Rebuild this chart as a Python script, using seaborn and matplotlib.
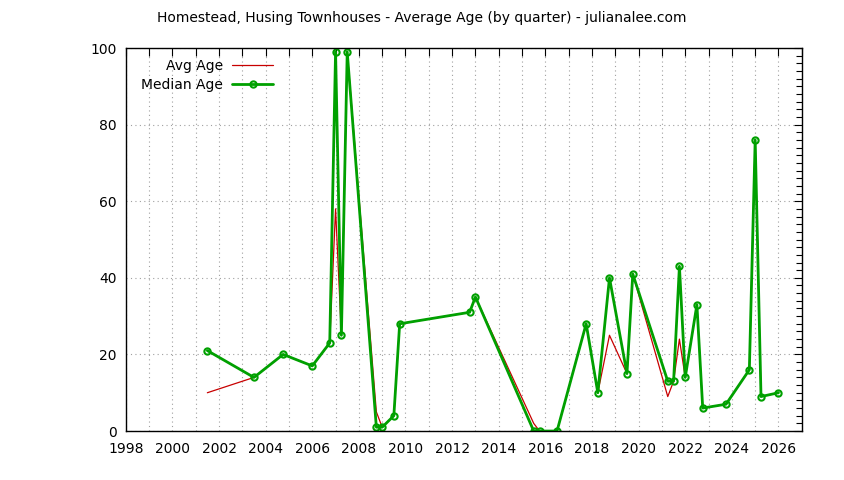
import numpy as np
import pandas as pd
import matplotlib
matplotlib.use("Agg")
import matplotlib.pyplot as plt
from matplotlib.ticker import MultipleLocator
import seaborn as sns

# quarter positions (decimal years) and ages
quarters = [2001.5, 2003.5, 2004.75, 2006.0, 2006.75, 2007.0, 2007.25, 2007.5,
            2008.75, 2009.0, 2009.5, 2009.75, 2012.75, 2013.0, 2015.5, 2015.75,
            2016.5, 2017.75, 2018.25, 2018.75, 2019.5, 2019.75, 2021.25, 2021.5,
            2021.75, 2022.0, 2022.5, 2022.75, 2023.75, 2024.75, 2025.0, 2025.25,
            2026.0]
avg_age = [10, 14, 20, 17, 23, 58, 25, 99,
           5, 1, 4, 28, 31, 35, 2, 0,
           0, 28, 10, 25, 15, 41, 9, 13,
           24, 14, 33, 6, 7, 16, 76, 9,
           10]
median_age = [21, 14, 20, 17, 23, 99, 25, 99,
              1, 1, 4, 28, 31, 35, 0, 0,
              0, 28, 10, 40, 15, 41, 13, 13,
              43, 14, 33, 6, 7, 16, 76, 9,
              10]

df = pd.DataFrame({"quarter": quarters, "avg": avg_age, "median": median_age})

sns.set_style("white")
plt.rcParams["font.family"] = ["DejaVu Sans"]
plt.rcParams["text.color"] = "black"
plt.rcParams["xtick.color"] = "black"
plt.rcParams["ytick.color"] = "black"

fig = plt.figure(figsize=(8.44, 4.80), dpi=100)
ax = fig.add_axes([0.149, 0.102, 0.801, 0.798])

sns.lineplot(data=df, x="quarter", y="avg", ax=ax, color="#c80000",
             linewidth=0.9, label="Avg Age")
sns.lineplot(data=df, x="quarter", y="median", ax=ax, color="#00a000",
             linewidth=2.0, marker="o", markersize=4.5, markerfacecolor="none",
             markeredgecolor="#00a000", markeredgewidth=1.5, label="Median Age")

ax.set_xlim(1998, 2027)
ax.set_ylim(0, 100)
ax.xaxis.set_major_locator(MultipleLocator(2))
ax.xaxis.set_minor_locator(MultipleLocator(1))
ax.yaxis.set_major_locator(MultipleLocator(20))
ax.yaxis.set_minor_locator(MultipleLocator(2))
ax.set_xlabel("")
ax.set_ylabel("")

ax.grid(which="major", axis="both", color="#a0a0a0", linestyle=(0, (1, 3)), linewidth=0.8)
ax.grid(which="minor", axis="x", color="#a0a0a0", linestyle=(0, (1, 3)), linewidth=0.8)

ax.tick_params(which="both", direction="in", top=True, right=True, labelsize=10,
               colors="black")
ax.tick_params(axis="x", which="major", pad=8)
ax.tick_params(axis="y", which="major", pad=6.5)
ax.tick_params(which="major", length=6, width=0.8)
ax.tick_params(which="minor", length=4, width=0.8)
ax.tick_params(axis="x", which="minor", length=6)
for s in ax.spines.values():
    s.set_color("black")
    s.set_linewidth(1.0)

leg = ax.legend(loc="upper left", frameon=False, markerfirst=False, fontsize=10,
                handlelength=2.95, handletextpad=0.7, borderaxespad=0.0,
                labelspacing=0.37, bbox_to_anchor=(0.014, 0.986))

fig.suptitle("Homestead, Husing Townhouses - Average Age (by quarter) - julianalee.com",
             y=0.9625, va="center", fontsize=10)

fig.savefig("out.png", dpi=100)
